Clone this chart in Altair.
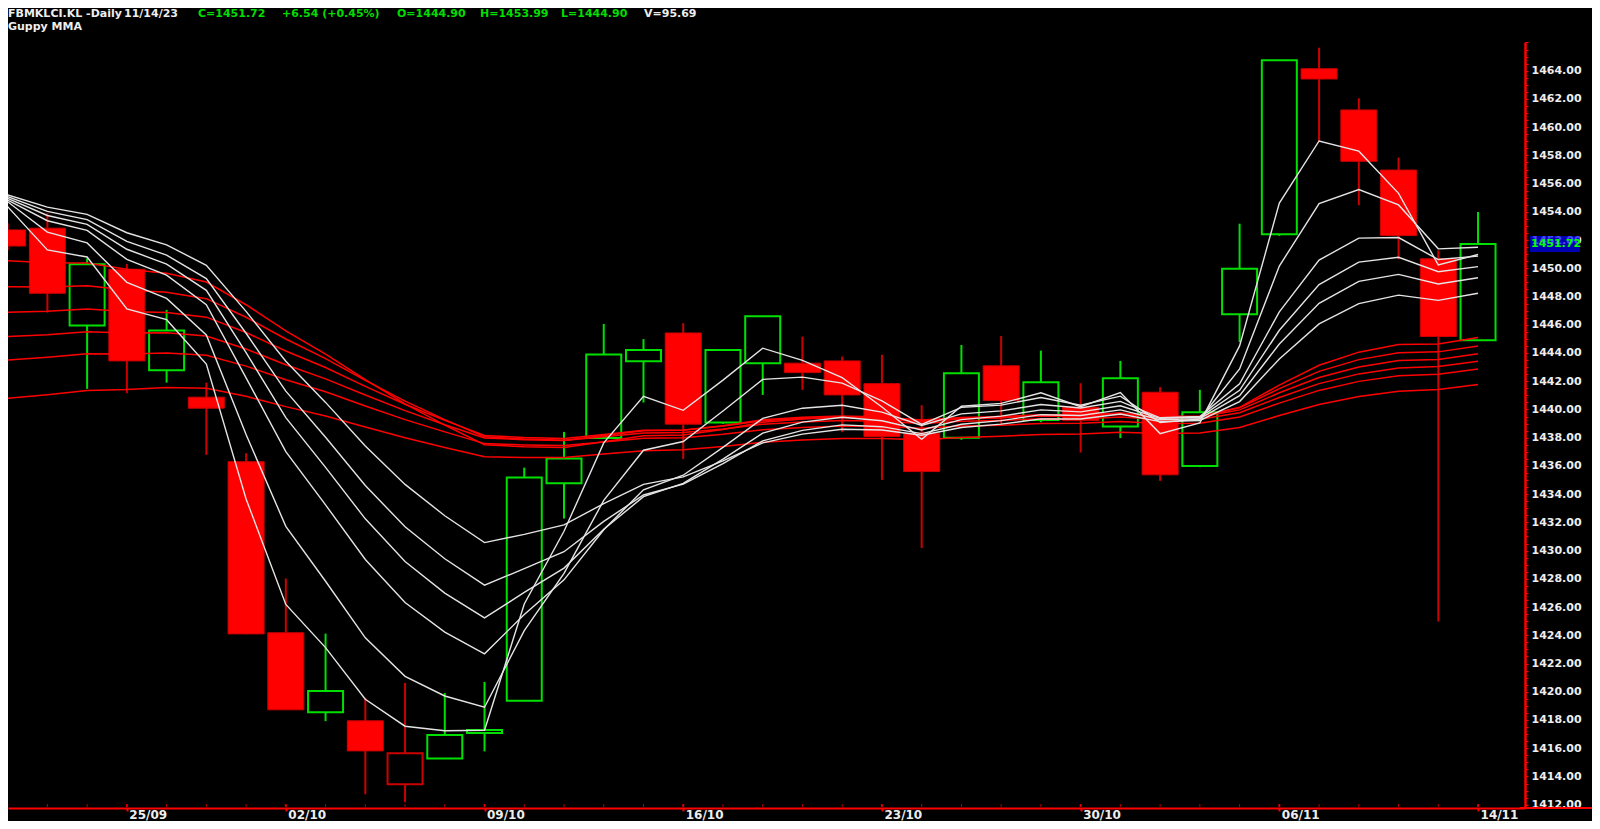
import altair as alt
import pandas as pd

# ---------------- data ----------------
dates = ["20/09", "21/09", "22/09", "25/09", "26/09", "27/09", "29/09",
         "02/10", "03/10", "04/10", "05/10", "06/10", "09/10", "10/10",
         "11/10", "12/10", "13/10", "16/10", "17/10", "18/10", "19/10",
         "20/10", "23/10", "24/10", "25/10", "26/10", "27/10", "30/10",
         "31/10", "01/11", "02/11", "03/11", "06/11", "07/11", "08/11",
         "09/11", "10/11", "14/11"]
opens = [1452.72, 1452.84, 1445.94, 1449.93, 1442.78, 1440.87, 1436.30,
         1424.18, 1418.55, 1417.94, 1413.45, 1415.28, 1417.07, 1419.36,
         1434.78, 1437.97, 1443.42, 1445.42, 1439.07, 1443.28, 1443.28,
         1443.44, 1441.83, 1438.32, 1437.99, 1443.09, 1439.26, 1440.16,
         1438.79, 1441.22, 1436.00, 1446.74, 1452.41, 1464.14, 1461.22,
         1456.96, 1450.67, 1444.90]
highs = [1453.20, 1453.90, 1450.71, 1450.31, 1447.05, 1441.90, 1436.90,
         1428.02, 1424.12, 1419.57, 1420.62, 1419.91, 1420.70, 1435.88,
         1438.41, 1446.06, 1444.98, 1446.11, 1444.22, 1446.60, 1445.16,
         1443.75, 1443.87, 1440.30, 1444.57, 1445.21, 1444.17, 1441.86,
         1443.44, 1441.58, 1441.39, 1453.16, 1464.74, 1465.63, 1462.05,
         1457.85, 1451.27, 1453.99]
lows = [1451.30, 1446.86, 1441.46, 1441.15, 1441.90, 1436.78, 1424.07,
        1418.70, 1417.92, 1412.74, 1412.17, 1415.28, 1415.78, 1419.36,
        1432.27, 1437.97, 1440.49, 1436.48, 1438.98, 1441.03, 1441.39,
        1438.39, 1435.01, 1430.18, 1437.85, 1438.84, 1439.10, 1436.95,
        1437.97, 1434.94, 1435.91, 1444.77, 1452.30, 1458.99, 1454.47,
        1450.64, 1424.98, 1444.90]
closes = [1451.58, 1448.23, 1450.29, 1443.44, 1445.59, 1440.09, 1424.10,
          1418.72, 1420.06, 1415.81, 1415.64, 1416.93, 1417.29, 1435.18,
          1436.52, 1443.89, 1444.22, 1438.96, 1444.22, 1446.60, 1442.61,
          1441.03, 1438.08, 1435.60, 1442.57, 1440.63, 1441.93, 1439.21,
          1442.21, 1435.37, 1439.81, 1449.96, 1464.74, 1463.41, 1457.58,
          1452.32, 1445.17, 1451.72]

# Guppy MMA - short-term group (white)
ema3 = [1454.37, 1451.30, 1450.80, 1447.12, 1446.36, 1443.22, 1433.66, 1426.19,
        1423.13, 1419.47, 1417.56, 1417.24, 1417.27, 1426.22, 1431.37, 1437.63,
        1440.93, 1439.94, 1442.08, 1444.34, 1443.48, 1442.25, 1440.17, 1437.88,
        1440.23, 1440.43, 1441.18, 1440.20, 1441.20, 1438.29, 1439.05, 1444.50,
        1454.62, 1459.02, 1458.30, 1455.31, 1450.24, 1450.98]
ema5 = [1454.72, 1452.56, 1451.80, 1449.01, 1447.87, 1445.28, 1438.22, 1431.72,
        1427.83, 1423.82, 1421.09, 1419.70, 1418.90, 1424.33, 1428.39, 1433.56,
        1437.11, 1437.73, 1439.89, 1442.13, 1442.29, 1441.87, 1440.61, 1438.94,
        1440.15, 1440.31, 1440.85, 1440.30, 1440.94, 1439.08, 1439.32, 1442.87,
        1450.16, 1454.58, 1455.58, 1454.49, 1451.38, 1451.49]
ema8 = [1454.84, 1453.37, 1452.69, 1450.63, 1449.51, 1447.42, 1442.24, 1437.01,
        1433.24, 1429.37, 1426.32, 1424.23, 1422.69, 1425.47, 1427.93, 1431.48,
        1434.31, 1435.34, 1437.31, 1439.37, 1440.09, 1440.30, 1439.81, 1438.87,
        1439.69, 1439.90, 1440.35, 1440.10, 1440.57, 1439.41, 1439.50, 1441.82,
        1446.91, 1450.58, 1452.14, 1452.18, 1450.62, 1450.86]
ema10 = [1454.96, 1453.74, 1453.11, 1451.35, 1450.30, 1448.44, 1444.02, 1439.42,
         1435.90, 1432.25, 1429.23, 1426.99, 1425.23, 1427.04, 1428.76, 1431.51,
         1433.82, 1434.76, 1436.48, 1438.32, 1439.10, 1439.45, 1439.20, 1438.55,
         1439.28, 1439.53, 1439.97, 1439.83, 1440.26, 1439.37, 1439.45, 1441.36,
         1445.61, 1448.85, 1450.44, 1450.78, 1449.76, 1450.12]
ema12 = [1455.08, 1454.03, 1453.45, 1451.91, 1450.94, 1449.27, 1445.40, 1441.30,
         1438.03, 1434.61, 1431.69, 1429.42, 1427.55, 1428.72, 1429.92, 1432.07,
         1433.94, 1434.71, 1436.17, 1437.78, 1438.52, 1438.91, 1438.78, 1438.29,
         1438.95, 1439.21, 1439.63, 1439.57, 1439.97, 1439.27, 1439.35, 1440.98,
         1444.64, 1447.52, 1449.07, 1449.57, 1448.89, 1449.33]
ema15 = [1455.20, 1454.33, 1453.82, 1452.52, 1451.66, 1450.21, 1446.95, 1443.42,
         1440.50, 1437.41, 1434.69, 1432.47, 1430.57, 1431.15, 1431.82, 1433.33,
         1434.69, 1435.22, 1436.35, 1437.63, 1438.25, 1438.60, 1438.54, 1438.17,
         1438.72, 1438.96, 1439.33, 1439.32, 1439.68, 1439.14, 1439.22, 1440.56,
         1443.58, 1446.06, 1447.50, 1448.10, 1447.73, 1448.23]

# Guppy MMA - long-term group (red)
ema30 = [1450.54, 1450.39, 1450.38, 1449.93, 1449.65, 1449.03, 1447.42, 1445.57,
         1443.92, 1442.11, 1440.40, 1438.89, 1437.50, 1437.35, 1437.30, 1437.72,
         1438.14, 1438.19, 1438.58, 1439.10, 1439.33, 1439.44, 1439.35, 1439.11,
         1439.33, 1439.42, 1439.58, 1439.56, 1439.73, 1439.45, 1439.47, 1440.15,
         1441.73, 1443.13, 1444.06, 1444.60, 1444.63, 1445.09]
ema35 = [1448.70, 1448.67, 1448.76, 1448.47, 1448.31, 1447.85, 1446.53, 1444.99,
         1443.60, 1442.06, 1440.59, 1439.28, 1438.06, 1437.90, 1437.82, 1438.16,
         1438.50, 1438.52, 1438.84, 1439.27, 1439.45, 1439.54, 1439.46, 1439.25,
         1439.43, 1439.50, 1439.63, 1439.61, 1439.75, 1439.51, 1439.53, 1440.11,
         1441.48, 1442.70, 1443.53, 1444.02, 1444.08, 1444.50]
ema40 = [1446.89, 1446.95, 1447.12, 1446.94, 1446.87, 1446.54, 1445.45, 1444.14,
         1442.97, 1441.64, 1440.37, 1439.23, 1438.16, 1438.01, 1437.94, 1438.23,
         1438.52, 1438.54, 1438.82, 1439.20, 1439.37, 1439.45, 1439.38, 1439.20,
         1439.36, 1439.42, 1439.54, 1439.52, 1439.65, 1439.44, 1439.46, 1439.97,
         1441.18, 1442.26, 1443.01, 1443.46, 1443.54, 1443.94]
ema45 = [1445.16, 1445.29, 1445.51, 1445.42, 1445.43, 1445.20, 1444.28, 1443.17,
         1442.17, 1441.02, 1439.92, 1438.92, 1437.98, 1437.86, 1437.80, 1438.07,
         1438.33, 1438.36, 1438.62, 1438.96, 1439.12, 1439.21, 1439.16, 1439.00,
         1439.16, 1439.22, 1439.34, 1439.33, 1439.46, 1439.28, 1439.30, 1439.77,
         1440.85, 1441.83, 1442.52, 1442.94, 1443.04, 1443.42]
ema50 = [1443.51, 1443.70, 1443.95, 1443.93, 1444.00, 1443.84, 1443.07, 1442.11,
         1441.25, 1440.25, 1439.28, 1438.41, 1437.58, 1437.49, 1437.45, 1437.70,
         1437.96, 1438.00, 1438.24, 1438.57, 1438.73, 1438.82, 1438.79, 1438.67,
         1438.82, 1438.89, 1439.01, 1439.02, 1439.14, 1439.00, 1439.03, 1439.46,
         1440.45, 1441.35, 1441.99, 1442.39, 1442.50, 1442.86]
ema60 = [1440.80, 1441.04, 1441.34, 1441.41, 1441.55, 1441.50, 1440.93, 1440.20,
         1439.54, 1438.76, 1438.00, 1437.31, 1436.65, 1436.60, 1436.60, 1436.84,
         1437.08, 1437.14, 1437.37, 1437.67, 1437.83, 1437.94, 1437.94, 1437.86,
         1438.02, 1438.10, 1438.23, 1438.26, 1438.39, 1438.29, 1438.34, 1438.72,
         1439.57, 1440.35, 1440.92, 1441.29, 1441.42, 1441.76]

x_tick_idx = [3, 7, 12, 17, 22, 27, 32, 37]
x_tick_labels = ["25/09", "02/10", "09/10", "16/10", "23/10", "30/10", "06/11", "14/11"]
y_label_min, y_label_max = 1412, 1464

# ---------------- styling ----------------
RED = "#ff0000"
DARK_RED = "#cc0000"
GREEN = "#00e000"
TXT_GREEN = "#00dd00"
WHITE_TXT = "#eeeeee"
FONT = "DejaVu Sans"

X_LO, X_HI = 0.135, 38.056
Y_LO, Y_HI = 1411.765, 1466.033

# ---------------- tables ----------------
df = pd.DataFrame({"idx": list(range(len(dates))), "date": dates, "open": opens,
                   "high": highs, "low": lows, "close": closes})
df["prev"] = df["close"].shift(1)
df["body_top"] = df[["open", "close"]].max(axis=1)
df["body_bot"] = df[["open", "close"]].min(axis=1)
df["hollow"] = df["close"] >= df["open"]
df["gain"] = df["close"] >= df["prev"]

green_df = df[df["gain"]]
red_df = df[~df["gain"]]
red_filled = red_df[~red_df["hollow"]]
red_hollow = red_df[red_df["hollow"]]

short_series = {"EMA3": ema3, "EMA5": ema5, "EMA8": ema8, "EMA10": ema10,
                "EMA12": ema12, "EMA15": ema15}
long_series = {"EMA30": ema30, "EMA35": ema35, "EMA40": ema40, "EMA45": ema45,
               "EMA50": ema50, "EMA60": ema60}


def long_table(series):
    rows = []
    for name, vals in series.items():
        for i, v in enumerate(vals):
            rows.append({"series": name, "idx": i, "value": v})
    return pd.DataFrame(rows)


short_df = long_table(short_series)
long_df = long_table(long_series)

# ---------------- scales & axes ----------------
xs = alt.Scale(domain=[X_LO, X_HI], nice=False, zero=False)
ys = alt.Scale(domain=[Y_LO, Y_HI], nice=False, zero=False)

x_label_expr = "".join(f"datum.value == {i} ? '{lab}' : " for i, lab in zip(x_tick_idx, x_tick_labels)) + "''"
x_axis = alt.Axis(values=x_tick_idx, labelExpr=x_label_expr, title=None, grid=False,
                  domainColor=RED, domainWidth=2, tickColor=RED, tickWidth=2, tickSize=3,
                  labelColor=WHITE_TXT, labelFont=FONT, labelFontWeight="bold",
                  labelFontSize=12, labelAlign="left", labelBaseline="alphabetic",
                  labelPadding=7, labelOffset=2, labelOverlap=False, labelBound=False,
                  labelFlush=False)

y_tick_values = [1412 + 0.5 * k for k in range(109)]
y_label_expr = (f"datum.value % 2 == 0 && datum.value >= {y_label_min} && "
                f"datum.value <= {y_label_max} ? format(datum.value, '.2f') : ''")
y_axis = alt.Axis(orient="right", values=y_tick_values, labelExpr=y_label_expr,
                  title=None, grid=False, domainColor=RED, domainWidth=2.5,
                  tickColor=RED, tickWidth=1, tickSize=3, labelColor=WHITE_TXT,
                  labelFont=FONT, labelFontWeight="bold", labelFontSize=11,
                  labelAlign="left", labelBaseline="middle", labelPadding=3,
                  labelOverlap=False, labelBound=False, labelFlush=False)

X = alt.X("idx:Q", scale=xs, axis=x_axis)


def Y(field):
    return alt.Y(f"{field}:Q", scale=ys, axis=y_axis)


XE = alt.XDatum(X_HI, scale=xs, axis=x_axis)
YB = alt.YDatum(Y_LO, scale=ys, axis=y_axis)

# ---------------- layers ----------------
layers = []

# wicks
for data, col in [(green_df, GREEN), (red_df, DARK_RED)]:
    layers.append(alt.Chart(data).mark_rule(color=col, strokeWidth=2, clip=True)
                  .encode(x=X, y=Y("high"), y2="body_top:Q"))
    layers.append(alt.Chart(data).mark_rule(color=col, strokeWidth=2, clip=True)
                  .encode(x=X, y=Y("body_bot"), y2="low:Q"))

# bodies
layers.append(alt.Chart(red_filled).mark_bar(size=36, fill=RED, stroke=DARK_RED,
                                             strokeWidth=1, clip=True)
              .encode(x=X, y=Y("open"), y2="close:Q"))
layers.append(alt.Chart(green_df).mark_bar(size=35, fill="transparent", stroke=GREEN,
                                           strokeWidth=2, clip=True)
              .encode(x=X, y=Y("open"), y2="close:Q"))
layers.append(alt.Chart(red_hollow).mark_bar(size=35, fill="transparent", stroke=DARK_RED,
                                             strokeWidth=2, clip=True)
              .encode(x=X, y=Y("open"), y2="close:Q"))

# Guppy lines
layers.append(alt.Chart(long_df).mark_line(color=RED, strokeWidth=1.5, clip=True)
              .encode(x=X, y=Y("value"), detail="series:N", order="idx:Q"))
layers.append(alt.Chart(short_df).mark_line(color="#e4e4e4", strokeWidth=1.4, clip=True)
              .encode(x=X, y=Y("value"), detail="series:N", order="idx:Q"))

# x-axis inner ticks (every session) and axis extension to the right
layers.append(alt.Chart(df).mark_tick(orient="vertical", size=3, thickness=1, color=RED,
                                      yOffset=-2.5)
              .encode(x=X, y=YB))
layers.append(alt.Chart(df[df["idx"].isin(x_tick_idx)])
              .mark_tick(orient="vertical", size=3, thickness=2, color=RED, yOffset=-2.5)
              .encode(x=X, y=YB))
layers.append(alt.Chart(alt.Data(values=[{}])).mark_rule(color=RED, strokeWidth=2)
              .encode(x=XE, x2=alt.X2Datum(40.5), y=YB))

# last price marker on the price axis
last = df.tail(1)
layers.append(alt.Chart(last).mark_tick(orient="horizontal", size=50, thickness=16,
                                        color="#0000ff", xOffset=35)
              .encode(x=XE, y=Y("close")))
layers.append(alt.Chart(last).mark_text(align="left", baseline="middle", dx=11,
                                        font=FONT, fontWeight="bold", fontSize=11,
                                        color="#00ff00")
              .encode(x=XE, y=Y("close"), text=alt.Text("close:Q", format=".2f")))

# header texts
header = [
    ("FBMKLCI.KL -Daily", 0, -25.5, WHITE_TXT),
    ("11/14/23", 116, -25.5, WHITE_TXT),
    ("C=1451.72", 190, -25.5, TXT_GREEN),
    ("+6.54 (+0.45%)", 274, -25.5, TXT_GREEN),
    ("O=1444.90", 389, -25.5, TXT_GREEN),
    ("H=1453.99", 472, -25.5, TXT_GREEN),
    ("L=1444.90", 553, -25.5, TXT_GREEN),
    ("V=95.69", 636, -25.5, WHITE_TXT),
    ("Guppy MMA", 0, -12, WHITE_TXT),
]
for txt, hx, hy, col in header:
    layers.append(alt.Chart(alt.Data(values=[{}])).mark_text(
        align="left", baseline="alphabetic", font=FONT, fontWeight="bold",
        fontSize=11, color=col)
        .encode(x=alt.value(hx), y=alt.value(hy), text=alt.value(txt)))

chart = (alt.layer(*layers)
         .properties(width=1517, height=766, background="#000000",
                     padding={"left": 0, "top": 34, "right": 67, "bottom": 13},
                     autosize=alt.AutoSizeParams(type="none"))
         .configure_view(strokeWidth=0, fill="#000000"))

chart.save("out.html", embed_options={"renderer": "svg", "actions": False})
